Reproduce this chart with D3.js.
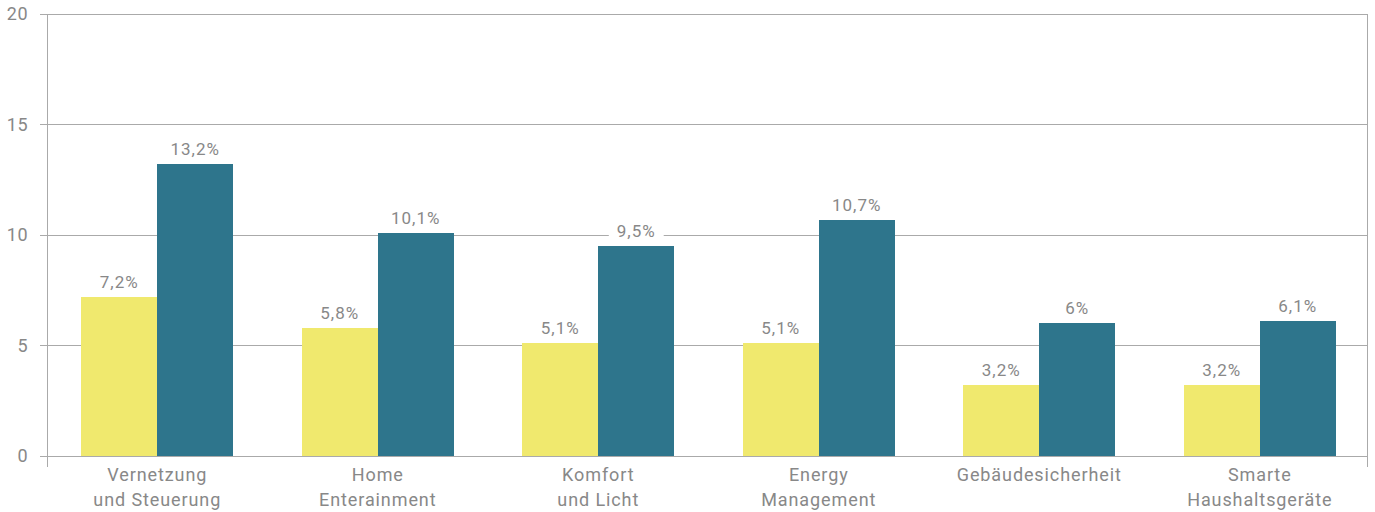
<!DOCTYPE html>
<html><head><meta charset="utf-8">
<script src="https://cdn.jsdelivr.net/npm/d3@7"></script>
<style>
html,body{margin:0;padding:0;background:#fff;}
text{font-family:Roboto,"Noto Sans",sans-serif;}
</style></head>
<body><svg id="c" width="1375" height="512"></svg>
<script>
const categories = [["Vernetzung","und Steuerung"],["Home","Enterainment"],["Komfort","und Licht"],["Energy","Management"],["Gebäudesicherheit"],["Smarte","Haushaltsgeräte"]];
const series1 = [7.2, 5.8, 5.1, 5.1, 3.2, 3.2];
const series2 = [13.2, 10.1, 9.5, 10.7, 6, 6.1];
const yTicks = [0, 5, 10, 15, 20];
const colors = ["#f0e96e", "#2e758c"];

const svg = d3.select("#c");
const m = {left:47, right:8, top:14, bottom:56};
const W = 1375, H = 512;
const x = d3.scaleBand().domain(d3.range(categories.length)).range([m.left, W - m.right + 3]).paddingInner(0).paddingOuter(0);
const y = d3.scaleLinear().domain([0,20]).range([H - m.bottom, m.top]);
const barW = 76;
const inner = d3.scaleBand().domain([0,1]).range([-barW, barW]);

// grid
svg.append("g").selectAll("line").data(yTicks).join("line")
  .attr("x1", m.left - 7).attr("x2", W - m.right)
  .attr("y1", d => y(d)).attr("y2", d => y(d))
  .attr("stroke", "#aaaaaa").attr("stroke-width", 1).attr("shape-rendering","crispEdges");
// vertical axis lines
[m.left, W - m.right].forEach(xx => {
  svg.append("line").attr("x1", xx).attr("x2", xx).attr("y1", m.top).attr("y2", y(0) + 11)
    .attr("stroke", "#aaaaaa").attr("stroke-width", 1).attr("shape-rendering","crispEdges");
});
// y tick labels
svg.append("g").selectAll("text").data(yTicks).join("text")
  .attr("x", 28).attr("y", d => y(d)).attr("dy", "0.35em")
  .attr("text-anchor", "end").attr("fill", "#888").attr("font-size", 18).attr("letter-spacing","0.5px").text(d => d);

const groups = svg.append("g").selectAll("g").data(categories).join("g")
  .attr("transform", (d,i) => `translate(${x(i) + x.bandwidth()/2},0)`);

const fmt = v => String(v).replace(".", ",") + "%";
[series1, series2].forEach((s, k) => {
  groups.append("rect")
    .attr("x", inner(k)).attr("width", inner.bandwidth())
    .attr("y", (d,i) => y(s[i])).attr("height", (d,i) => y(0) - y(s[i]))
    .attr("fill", colors[k]).attr("shape-rendering","crispEdges");
});
[series1, series2].forEach((s, k) => {
  const lg = groups.append("g").attr("transform", (d,i) => `translate(${inner(k) + inner.bandwidth()/2},${y(s[i]) - 9})`);
  lg.append("text").attr("text-anchor","middle").attr("fill","#888").attr("font-size",17)
    .attr("letter-spacing","1px").text((d,i) => fmt(s[i]));
  lg.each(function(){
    const tn = d3.select(this).select("text").node();
    const bb = tn.getBBox();
    d3.select(this).insert("rect","text").attr("x", bb.x - 8).attr("y", bb.y).attr("width", bb.width + 16).attr("height", bb.height).attr("fill","#fff");
  });
});

// category labels
groups.append("text").attr("text-anchor","middle").attr("fill","#888").attr("font-size",18)
  .attr("letter-spacing","0.9px")
  .attr("y", y(0) + 25)
  .selectAll("tspan").data(d => d).join("tspan")
  .attr("x", 0).attr("dy", (d,i) => i === 0 ? 0 : 25).text(d => d);
</script></body></html>
